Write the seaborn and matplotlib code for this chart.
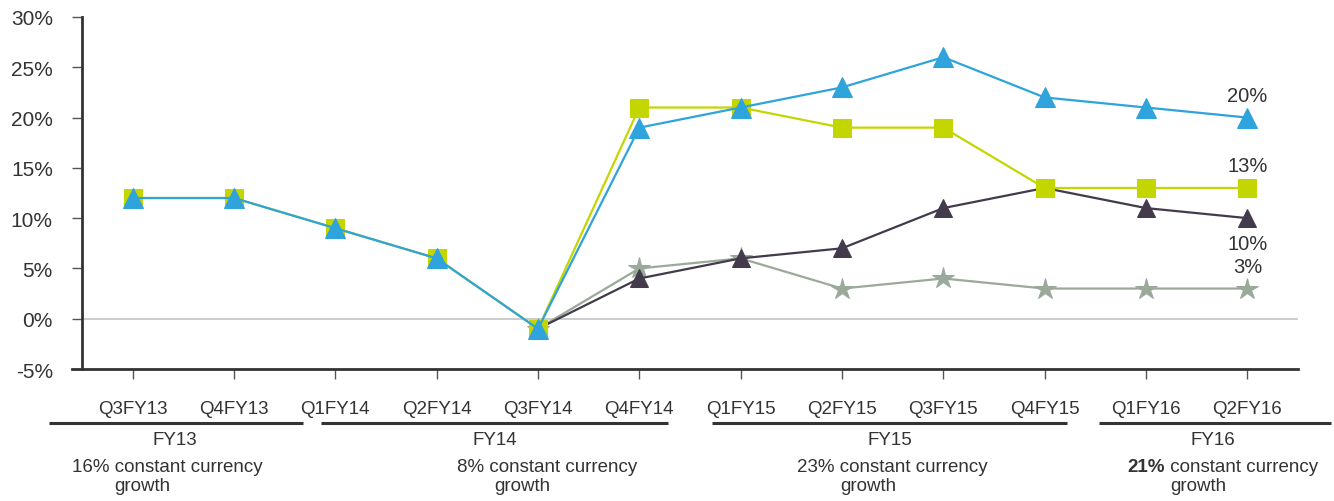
import numpy as np
import pandas as pd
import matplotlib
matplotlib.use("Agg")
import matplotlib.pyplot as plt
import matplotlib.transforms as mtransforms
import seaborn as sns

# quarters on the x axis
quarters = ["Q3FY13", "Q4FY13", "Q1FY14", "Q2FY14", "Q3FY14", "Q4FY14",
            "Q1FY15", "Q2FY15", "Q3FY15", "Q4FY15", "Q1FY16", "Q2FY16"]

# growth series (%), None where a series is not shown
blue_vals = [12, 12, 9, 6, -1, 19, 21, 23, 26, 22, 21, 20]
green_vals = [12, 12, 9, 6, -1, 21, 21, 19, 19, 13, 13, 13]
dark_vals = [None, None, None, None, -1, 4, 6, 7, 11, 13, 11, 10]
grey_vals = [None, None, None, None, -1, 5, 6, 3, 4, 3, 3, 3]

# end labels
end_labels = ["20%", "13%", "10%", "3%"]

# fiscal year groups and their growth text
fy_names = ["FY13", "FY14", "FY15", "FY16"]
fy_growth = ["16%", "8%", "23%", "21%"]

y_ticks = [-5, 0, 5, 10, 15, 20, 25, 30]

df = pd.DataFrame({
    "x": np.arange(len(quarters)),
    "blue": blue_vals,
    "green": green_vals,
    "dark": dark_vals,
    "grey": grey_vals,
}).astype(float)

sns.set_style("white")
plt.rcParams["font.family"] = ["Liberation Sans", "DejaVu Sans"]
plt.rcParams["font.size"] = 13.5
txt_color = "#333333"

fig = plt.figure(figsize=(13.34, 5.02), dpi=100)
ax = fig.add_axes([82 / 1334, 1 - 370 / 502, (1298 - 82) / 1334, (370 - 18) / 502])

ax.axhline(0, color="#c8c8c8", lw=1.3, zorder=1)

series = [
    ("grey", "#9aa99a", "*", 16),
    ("dark", "#433a4b", "^", 13.5),
    ("green", "#c4d600", "s", 13.5),
    ("blue", "#2fa3dc", "^", 14),
]
for i, (col, c, m, ms) in enumerate(series):
    d = df.dropna(subset=[col])
    sns.lineplot(data=d, x="x", y=col, ax=ax, color=c, marker=m, markersize=ms,
                 markeredgecolor=c, lw=1.6, zorder=3 + i, legend=False)

# labels at the right end
last = len(quarters) - 1
offsets = [(blue_vals[-1], 16), (green_vals[-1], 16), (dark_vals[-1], -18), (grey_vals[-1], 16)]
for lab, (v, off) in zip(end_labels, offsets):
    ax.annotate(lab, (last, v), xytext=(0, off), textcoords="offset points",
                ha="center", va="center", fontsize=14.5, color=txt_color)

ax.set_xlim(-0.5, len(quarters) - 0.5)
ax.set_ylim(-5, 30)
ax.set_yticks(y_ticks)
ax.set_yticklabels([f"{t}%" for t in y_ticks], fontsize=15, color=txt_color)
ax.set_xticks(df["x"])
ax.set_xticklabels(quarters, color=txt_color)
ax.set_xlabel("")
ax.set_ylabel("")

sns.despine(ax=ax)
ax.spines["left"].set_linewidth(2)
ax.spines["left"].set_color("#333333")
ax.spines["bottom"].set_linewidth(2)
ax.spines["bottom"].set_color("#333333")
ax.tick_params(axis="y", direction="out", length=7, width=1, color="#555555", pad=14, left=True)
ax.tick_params(axis="x", direction="out", length=7, width=1, color="#555555", pad=15, bottom=True)
# bottom spine runs left as the -5% tick
ax.spines["bottom"].set_bounds(-0.5 - 10 / 101.3, len(quarters) - 0.5)

# fiscal year grouping under the axis
trans = mtransforms.blended_transform_factory(ax.transData, ax.transAxes)
fy_spans = [(-0.83, 1.68), (1.86, 5.28), (5.72, 9.22), (9.54, 11.83)]
fy_label_x = [0.42, 3.57, 7.47, 10.66]
growth_x = [0.34, 4.09, 7.50, 10.76]
for name, g, (x0, x1), lx, gx in zip(fy_names, fy_growth, fy_spans, fy_label_x, growth_x):
    ax.plot([x0, x1], [-0.153, -0.153], transform=trans, color="#333333", lw=2.2,
            clip_on=False, solid_capstyle="butt")
    ax.text(lx, -0.199, name, transform=trans, ha="center", va="center", color=txt_color)
    if name == "FY16":
        t1 = ax.text(gx - 0.94, -0.276, g, transform=trans, ha="left", va="center",
                     color=txt_color, fontweight="bold")
        ax.annotate(" constant currency", xy=(1, 0.5), xycoords=t1, ha="left",
                    va="center", color=txt_color)
    else:
        ax.text(gx, -0.276, g + " constant currency", transform=trans, ha="center",
                va="center", color=txt_color)
    ax.text(gx - 0.24, -0.332, "growth", transform=trans, ha="center", va="center",
            color=txt_color)

fig.savefig("out.png", dpi=100)
